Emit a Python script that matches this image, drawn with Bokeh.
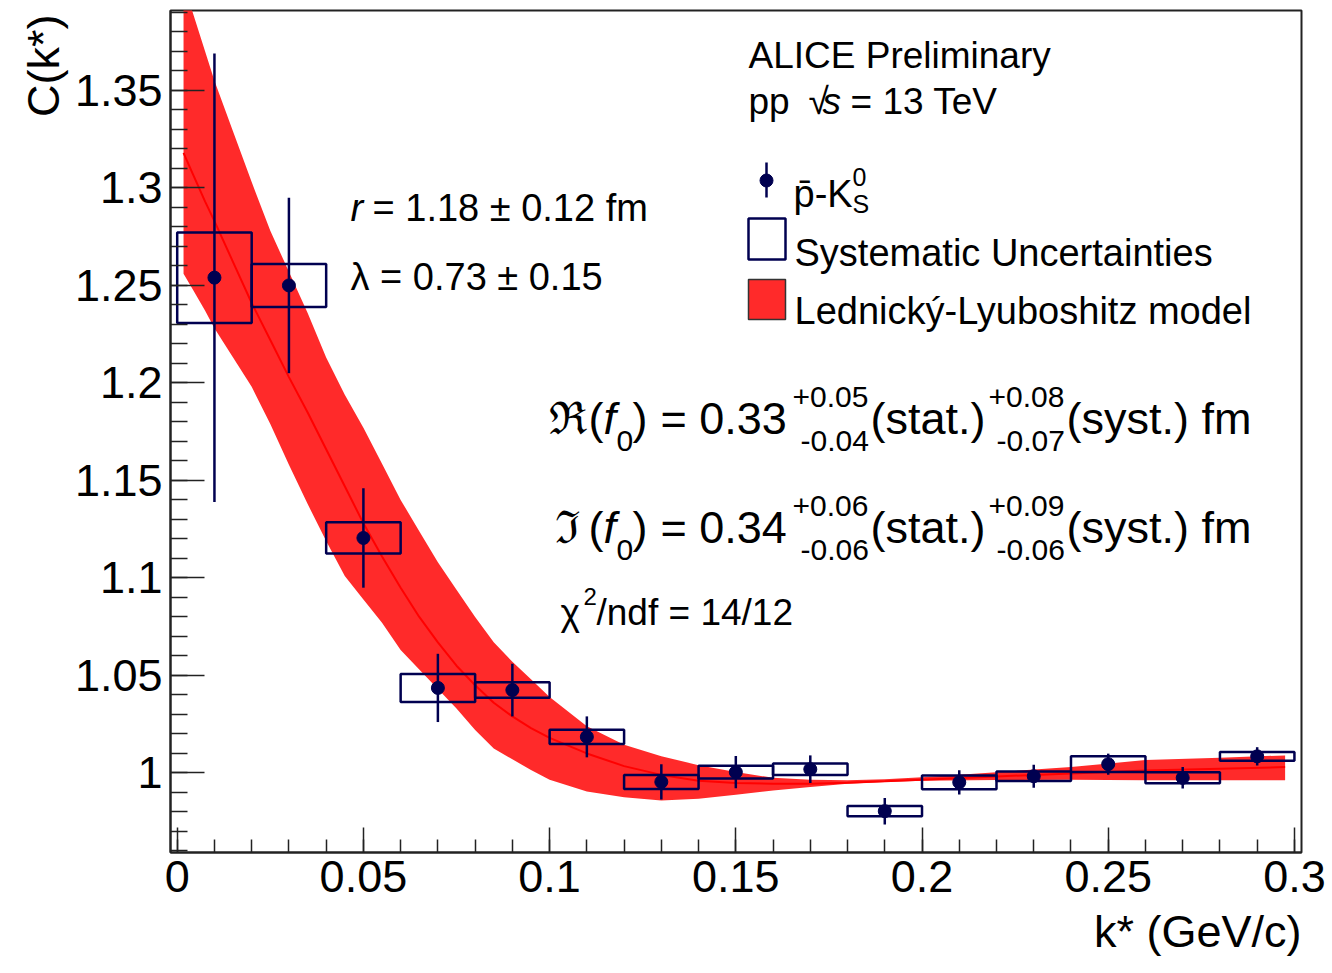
import math
from bokeh.plotting import figure
from bokeh.models import FixedTicker, Label, ColumnDataSource, Title
from bokeh.embed import file_html
from bokeh.resources import INLINE

# ---------------- data ----------------
kstar = [0.01, 0.03, 0.05, 0.07, 0.09, 0.11, 0.13, 0.15, 0.17, 0.19, 0.21, 0.23, 0.25, 0.27, 0.29]
ck = [1.254, 1.250, 1.1205, 1.0436, 1.0425, 1.0185, 0.9954, 1.0004, 1.0019, 0.9804, 0.9952, 0.9983, 1.0045, 0.9975, 1.0085]
stat_err = [0.115, 0.045, 0.0255, 0.0175, 0.0135, 0.0105, 0.009, 0.0083, 0.0071, 0.0068, 0.0062, 0.0059, 0.0054, 0.0055, 0.0047]
syst_err = [0.0232, 0.011, 0.008, 0.0072, 0.004, 0.0036, 0.0036, 0.0033, 0.003, 0.0026, 0.0035, 0.0024, 0.004, 0.0028, 0.0022]
bin_half_width = 0.01

band_k = [0.0017, 0.004, 0.0075, 0.01, 0.015, 0.02, 0.025, 0.03, 0.035, 0.04, 0.045, 0.05, 0.055, 0.06,
          0.065, 0.07, 0.075, 0.08, 0.085, 0.09, 0.095, 0.10, 0.11, 0.12, 0.13, 0.14, 0.15, 0.16, 0.17,
          0.18, 0.19, 0.20, 0.22, 0.24, 0.26, 0.28, 0.2975]
band_up = [1.405, 1.391, 1.370, 1.355, 1.329, 1.303, 1.278, 1.257, 1.236, 1.213, 1.194, 1.177, 1.1585, 1.140,
           1.124, 1.108, 1.094, 1.080, 1.067, 1.057, 1.048, 1.039, 1.024, 1.0145, 1.0085, 1.004, 1.0005, 0.9975,
           0.9965, 0.9962, 0.9968, 0.9978, 1.0004, 1.003, 1.0066, 1.0078, 1.009]
band_mid = [1.318, 1.308, 1.293, 1.283, 1.262, 1.241, 1.222, 1.203, 1.185, 1.166, 1.147, 1.128, 1.111, 1.095,
            1.080, 1.067, 1.055, 1.045, 1.036, 1.029, 1.023, 1.018, 1.010, 1.0035, 0.9990, 0.9960, 0.9948, 0.9945,
            0.9945, 0.9950, 0.9957, 0.9965, 0.9982, 0.9997, 1.0012, 1.0022, 1.003]
band_lo = [1.256, 1.2485, 1.237, 1.228, 1.213, 1.198, 1.179, 1.158, 1.138, 1.119, 1.101, 1.089, 1.077, 1.063,
           1.053, 1.043, 1.033, 1.022, 1.0125, 1.0070, 1.0015, 0.9965, 0.9905, 0.9875, 0.9859, 0.9868, 0.9888, 0.991,
           0.9928, 0.9945, 0.9953, 0.9960, 0.9964, 0.9965, 0.9963, 0.9962, 0.9962]

x_tick_labels = ["0", "0.05", "0.1", "0.15", "0.2", "0.25", "0.3"]
y_tick_labels = ["1", "1.05", "1.1", "1.15", "1.2", "1.25", "1.3", "1.35"]
x_title = "k* (GeV/c)"
y_title = "C(k*)"

# ---------------- layout ----------------
X0, X1 = -0.0018, 0.3019
Y0, Y1 = 0.9592, 1.391
W, H = 1330, 970
FL, FR, FT, FB = 170, 1301, 10, 852   # frame edges in canvas px

def px2x(px):
    return X0 + (px - FL) / (FR - FL) * (X1 - X0)

def py2y(py):
    return Y0 + (FB - py) / (FB - FT) * (Y1 - Y0)

NAVY = "#000050"
RED = "#ff2a2a"
FONT = "Liberation Sans"

p = figure(width=W, height=H, x_range=(X0, X1), y_range=(Y0, Y1),
           output_backend="svg", toolbar_location=None,
           min_border_left=FL, min_border_right=W - FR, min_border_top=FT, min_border_bottom=H - FB)
p.xgrid.visible = False
p.ygrid.visible = False
p.background_fill_color = "white"
p.border_fill_color = "white"
p.outline_line_color = "#222222"
p.outline_line_width = 2

xt = [float(s) for s in x_tick_labels]
yt = [float(s) for s in y_tick_labels]
xminor = [i / 100 for i in range(0, 31)]
yminor = [0.96 + i / 100 for i in range(0, 44)]
p.xaxis.ticker = FixedTicker(ticks=xt, minor_ticks=xminor)
p.yaxis.ticker = FixedTicker(ticks=yt, minor_ticks=yminor)
p.xaxis.major_label_overrides = {v: s for v, s in zip(xt, x_tick_labels)}
p.yaxis.major_label_overrides = {v: s for v, s in zip(yt, y_tick_labels)}

for ax in (p.xaxis[0], p.yaxis[0]):
    ax.major_tick_out = 0
    ax.minor_tick_out = 0
    ax.major_tick_line_width = 1.5
    ax.minor_tick_line_width = 1.5
    ax.major_tick_line_color = "#222222"
    ax.minor_tick_line_color = "#222222"
    ax.axis_line_width = 2
    ax.axis_line_color = "#222222"
    ax.major_label_text_font = FONT
    ax.major_label_text_font_size = "45px"
    ax.major_label_text_color = "black"
    ax.major_label_standoff = 8
p.yaxis.major_tick_in = 34
p.yaxis.minor_tick_in = 17
p.xaxis.major_tick_in = 25
p.xaxis.minor_tick_in = 13

# axis titles (ROOT style: aligned to the axis end)
p.add_layout(Title(text=x_title, align="right", text_font=FONT, text_font_size="45px",
                   text_font_style="normal", text_color="black", standoff=18, offset=0), "below")
p.add_layout(Title(text=y_title, align="right", text_font=FONT, text_font_size="45px",
                   text_font_style="normal", text_color="black", standoff=6, offset=4), "left")

# ---------------- marks ----------------
src = ColumnDataSource(dict(
    k=kstar, c=ck,
    lo=[c - e for c, e in zip(ck, stat_err)],
    hi=[c + e for c, e in zip(ck, stat_err)],
    sb=[c - e for c, e in zip(ck, syst_err)],
    st=[c + e for c, e in zip(ck, syst_err)],
    left=[k - bin_half_width for k in kstar],
    right=[k + bin_half_width for k in kstar],
))

p.varea(x=band_k, y1=band_lo, y2=band_up, fill_color=RED)
p.line(band_k, band_mid, line_color="#ff0000", line_width=2)
p.quad(left="left", right="right", bottom="sb", top="st", source=src,
       fill_color=None, line_color=NAVY, line_width=2.5)
p.segment(x0="k", y0="lo", x1="k", y1="hi", source=src, line_color=NAVY, line_width=2.5)
p.scatter(x="k", y="c", source=src, size=13, color=NAVY)

# legend symbols
p.segment(x0=[px2x(766)], y0=[py2y(162)], x1=[px2x(766)], y1=[py2y(197)], line_color=NAVY, line_width=2.5)
p.scatter(x=[px2x(766)], y=[py2y(180)], size=13, color=NAVY)
p.quad(left=[px2x(748)], right=[px2x(785)], bottom=[py2y(259)], top=[py2y(218)],
       fill_color=None, line_color=NAVY, line_width=2.5)
p.quad(left=[px2x(748)], right=[px2x(785)], bottom=[py2y(319)], top=[py2y(279)],
       fill_color=RED, line_color="#333333", line_width=1.5)

# ---------------- texts ----------------
def txt(t, px, py, size, style="normal", angle=0.0):
    p.add_layout(Label(x=px2x(px), y=py2y(py), text=t, text_font=FONT,
                       text_font_size=f"{size}px", text_font_style=style,
                       text_color="black", text_baseline="alphabetic",
                       text_align="left", angle=angle))

txt("ALICE Preliminary", 748, 55, 37)
txt("pp", 748, 101, 37)
txt("√", 808, 101, 37)
txt("s", 822, 101, 37, "italic")
txt("= 13 TeV", 850, 101, 37)

txt("p̄-K", 793, 193, 38)
txt("0", 852, 176, 25)
txt("S", 852, 203, 25)
txt("Systematic Uncertainties", 794, 252, 38)
txt("Lednický-Lyuboshitz model", 794, 310, 38)

txt("r", 350, 207, 38, "italic")
txt("= 1.18 ± 0.12 fm", 372, 207, 38)
txt("λ = 0.73 ± 0.15", 350, 276, 38)

for sym, sx, val, sp1, sm1, sp2, sm2, b in (("ℜ", 548, "0.33", "+0.05", "-0.04", "+0.08", "-0.07", 418),
                                            ("ℑ", 554, "0.34", "+0.06", "-0.06", "+0.09", "-0.06", 527)):
    txt(sym, sx, b, 45)
    txt("(", 588, b, 45)
    txt("f", 603, b, 45, "italic")
    txt("0", 616, b + 22, 30)
    txt(")", 632, b, 45)
    txt("= " + val, 660, b, 45)
    txt(sp1, 792, b - 22, 30)
    txt(sm1, 800, b + 22, 30)
    txt("(stat.)", 870, b, 45)
    txt(sp2, 988, b - 22, 30)
    txt(sm2, 996, b + 22, 30)
    txt("(syst.) fm", 1066, b, 45)

txt("χ", 560, 612, 37)
txt("2", 583, 596, 24)
txt("/ndf = 14/12", 596, 612, 37)

open("out.html", "w").write(file_html(p, INLINE))
